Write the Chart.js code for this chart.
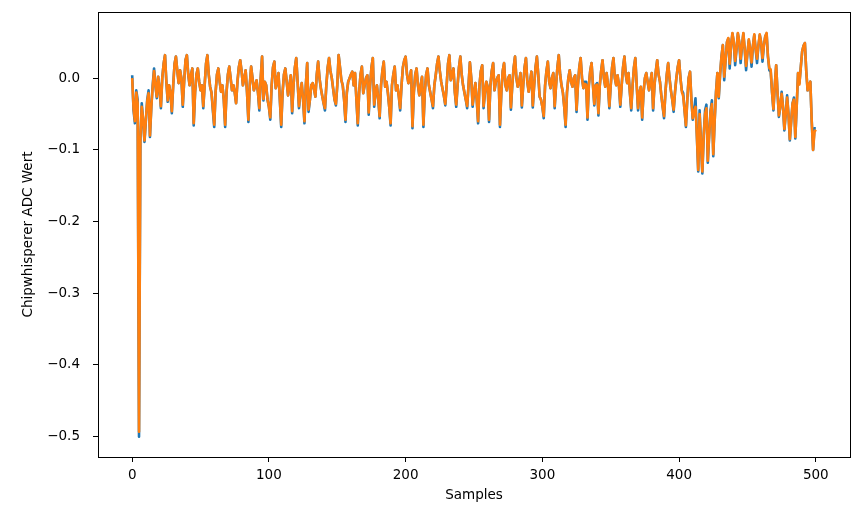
<!DOCTYPE html>
<html>
<head>
<meta charset="utf-8">
<script src="https://cdn.jsdelivr.net/npm/chart.js@4.4.1/dist/chart.umd.min.js"></script>
<style>
  html, body { margin: 0; padding: 0; background: #fff; }
  #wrap { width: 867px; height: 514px; }
</style>
</head>
<body>
<div id="wrap"><canvas id="trace" width="867" height="514"></canvas></div>
<script>
// trace values, one per sample (0..500)
const blueTrace = [
  0.004, -0.045, -0.063, -0.017, -0.03, -0.5, -0.085, -0.035, -0.06, -0.089,
  -0.06, -0.03, -0.017, -0.082, -0.04, -0.01, 0.0135, -0.01, -0.028, 0.002,
  -0.015, -0.042, 0.0, 0.02, 0.032, -0.005, -0.033, -0.01, -0.02, -0.049,
  -0.01, 0.02, 0.030, 0.01, -0.007, 0.011, 0.0, -0.040, -0.005, 0.025,
  0.032, 0.005, -0.01, 0.005, 0.0135, -0.066, -0.02, 0.005, 0.0135, -0.005,
  -0.017, -0.01, -0.042, -0.01, 0.02, 0.032, 0.005, -0.012, -0.02, -0.045,
  -0.068, -0.02, 0.005, 0.0135, -0.005, -0.019, -0.01, -0.03, -0.068, -0.02,
  0.005, 0.016, 0.0, -0.017, -0.01, -0.02, -0.035, -0.005, 0.015, 0.025,
  0.01, -0.01, 0.0, 0.011, -0.02, -0.061, -0.01, 0.016, 0.0, -0.017,
  -0.01, -0.003, -0.02, -0.045, 0.0, 0.030, -0.031, -0.005, -0.01, -0.03,
  -0.04, -0.058, -0.01, 0.015, 0.023, -0.014, -0.005, 0.007, -0.03, -0.068,
  -0.02, 0.005, 0.0135, -0.005, -0.024, -0.01, 0.004, -0.049, -0.01, 0.015,
  0.028, -0.005, -0.042, -0.02, -0.007, -0.03, -0.063, -0.01, 0.021, -0.047,
  -0.03, -0.01, -0.007, -0.015, -0.026, 0.005, 0.023, 0.0, -0.014, -0.025,
  -0.035, -0.045, -0.01, 0.015, 0.028, 0.01, 0.0, -0.015, -0.03, -0.038,
  -0.01, 0.032, 0.015, -0.003, -0.01, -0.03, -0.061, -0.02, -0.005, 0.0,
  0.005, 0.009, -0.01, 0.007, -0.03, -0.066, -0.02, 0.005, 0.016, -0.021,
  -0.01, 0.0, 0.004, -0.051, -0.01, 0.015, 0.028, -0.040, -0.02, -0.01,
  -0.03, -0.056, -0.01, 0.01, 0.023, -0.012, -0.005, -0.02, -0.04, -0.066,
  -0.01, 0.005, 0.016, -0.017, -0.01, -0.025, -0.045, -0.01, 0.015, 0.025,
  0.030, 0.005, -0.007, 0.0, 0.011, -0.070, -0.02, 0.005, 0.0135, -0.01,
  -0.024, -0.01, 0.002, -0.068, -0.02, 0.005, 0.0135, -0.01, -0.02, -0.03,
  -0.042, -0.01, 0.004, 0.02, 0.030, 0.01, -0.005, -0.015, -0.025, -0.038,
  -0.01, 0.02, 0.032, -0.003, 0.005, 0.0135, -0.02, -0.040, -0.01, 0.015,
  0.030, 0.005, -0.010, -0.02, -0.03, -0.042, -0.01, 0.022, 0.0, -0.04,
  -0.02, -0.007, -0.03, -0.063, -0.01, 0.01, 0.018, -0.042, -0.02, -0.005,
  -0.012, -0.061, -0.01, 0.01, 0.021, -0.017, -0.005, 0.0, 0.004, -0.068,
  -0.02, 0.01, 0.021, -0.01, -0.017, 0.0, 0.004, -0.044, -0.01, 0.015,
  0.030, 0.0, -0.012, -0.005, 0.007, -0.041, -0.01, 0.015, 0.028, -0.005,
  -0.019, -0.005, 0.009, -0.041, -0.01, 0.015, 0.030, 0.005, -0.026, -0.03,
  -0.04, -0.056, -0.01, 0.01, 0.023, -0.005, -0.014, 0.0, 0.007, -0.042,
  -0.01, 0.015, 0.032, 0.005, -0.010, -0.02, -0.04, -0.068, -0.02, 0.0,
  0.011, -0.005, -0.012, 0.0, 0.004, -0.047, -0.01, 0.015, 0.028, 0.0,
  -0.014, -0.005, -0.005, -0.058, -0.01, 0.01, 0.021, -0.01, -0.038, -0.01,
  -0.007, -0.052, -0.01, 0.01, 0.025, 0.0, -0.012, 0.007, -0.01, -0.042,
  -0.01, 0.015, 0.028, 0.0, -0.010, 0.004, -0.01, -0.040, -0.01, 0.015,
  0.030, 0.005, -0.007, 0.007, -0.02, -0.045, -0.01, 0.015, 0.028, -0.01,
  -0.045, -0.02, -0.012, -0.058, -0.02, 0.0, 0.007, -0.005, -0.017, -0.005,
  0.007, -0.045, -0.01, 0.01, 0.025, 0.005, -0.005, -0.024, -0.04, -0.056,
  -0.02, 0.005, 0.021, 0.0, -0.017, -0.03, -0.047, -0.02, 0.0, 0.015,
  0.025, 0.0, -0.017, -0.021, -0.045, -0.068, -0.03, 0.0, 0.009, -0.03,
  -0.058, -0.045, -0.028, -0.08, -0.13, -0.045, -0.09, -0.133, -0.08, -0.045,
  -0.037, -0.118, -0.08, -0.045, -0.031, -0.109, -0.06, -0.019, 0.007, -0.028,
  0.005, 0.030, 0.046, -0.003, 0.025, 0.05, 0.055, 0.0135, 0.045, 0.062,
  0.05, 0.018, 0.04, 0.062, 0.05, 0.021, 0.045, 0.062, 0.04, 0.011,
  0.035, 0.053, 0.04, 0.016, 0.045, 0.060, 0.04, 0.021, 0.045, 0.060,
  0.05, 0.023, 0.045, 0.058, 0.062, 0.03, 0.011, 0.009, -0.02, -0.045,
  -0.01, 0.018, -0.02, -0.054, -0.04, -0.019, -0.04, -0.073, -0.05, -0.024,
  -0.05, -0.087, -0.06, -0.035, -0.027, -0.084, -0.04, 0.007, -0.007, 0.015,
  0.037, 0.045, 0.049, 0.01, -0.017, -0.01, -0.005, -0.06, -0.10, -0.07,
  -0.07
];

const orangeTrace = [
  0.0, -0.042, -0.06, -0.02, -0.035, -0.493, -0.082, -0.04, -0.058, -0.087,
  -0.058, -0.032, -0.021, -0.08, -0.04, -0.012, 0.01, -0.01, -0.026, 0.002,
  -0.015, -0.039, 0.0, 0.02, 0.032, -0.005, -0.031, -0.01, -0.02, -0.046,
  -0.01, 0.02, 0.030, 0.01, -0.007, 0.011, 0.0, -0.037, -0.005, 0.025,
  0.032, 0.005, -0.01, 0.005, 0.0135, -0.063, -0.02, 0.005, 0.0135, -0.005,
  -0.017, -0.01, -0.039, -0.01, 0.02, 0.032, 0.005, -0.012, -0.02, -0.042,
  -0.065, -0.02, 0.005, 0.0135, -0.005, -0.019, -0.01, -0.03, -0.065, -0.02,
  0.005, 0.016, 0.0, -0.017, -0.01, -0.02, -0.035, -0.005, 0.015, 0.025,
  0.01, -0.01, 0.0, 0.011, -0.02, -0.058, -0.01, 0.016, 0.0, -0.017,
  -0.01, -0.003, -0.02, -0.042, 0.0, 0.030, -0.029, -0.005, -0.01, -0.03,
  -0.04, -0.055, -0.01, 0.015, 0.023, -0.014, -0.005, 0.007, -0.03, -0.065,
  -0.02, 0.005, 0.0135, -0.005, -0.024, -0.01, 0.004, -0.046, -0.01, 0.015,
  0.028, -0.005, -0.039, -0.02, -0.007, -0.03, -0.06, -0.01, 0.021, -0.044,
  -0.03, -0.01, -0.007, -0.015, -0.026, 0.005, 0.023, 0.0, -0.014, -0.025,
  -0.035, -0.042, -0.01, 0.015, 0.028, 0.01, 0.0, -0.015, -0.03, -0.036,
  -0.01, 0.032, 0.015, -0.003, -0.01, -0.03, -0.058, -0.02, -0.005, 0.0,
  0.005, 0.009, -0.01, 0.007, -0.03, -0.063, -0.02, 0.005, 0.016, -0.021,
  -0.01, 0.0, 0.004, -0.048, -0.01, 0.015, 0.028, -0.037, -0.02, -0.01,
  -0.03, -0.053, -0.01, 0.01, 0.023, -0.012, -0.005, -0.02, -0.04, -0.063,
  -0.01, 0.005, 0.016, -0.017, -0.01, -0.025, -0.042, -0.01, 0.015, 0.025,
  0.030, 0.005, -0.007, 0.0, 0.011, -0.067, -0.02, 0.005, 0.0135, -0.01,
  -0.024, -0.01, 0.002, -0.065, -0.02, 0.005, 0.0135, -0.01, -0.02, -0.03,
  -0.039, -0.01, 0.004, 0.02, 0.030, 0.01, -0.005, -0.015, -0.025, -0.036,
  -0.01, 0.02, 0.032, -0.003, 0.005, 0.0135, -0.02, -0.037, -0.01, 0.015,
  0.030, 0.005, -0.010, -0.02, -0.03, -0.039, -0.01, 0.022, 0.0, -0.037,
  -0.02, -0.007, -0.03, -0.06, -0.01, 0.01, 0.018, -0.039, -0.02, -0.005,
  -0.012, -0.058, -0.01, 0.01, 0.021, -0.017, -0.005, 0.0, 0.004, -0.065,
  -0.02, 0.01, 0.021, -0.01, -0.017, 0.0, 0.004, -0.041, -0.01, 0.015,
  0.030, 0.0, -0.012, -0.005, 0.007, -0.038, -0.01, 0.015, 0.028, -0.005,
  -0.019, -0.005, 0.009, -0.038, -0.01, 0.015, 0.030, 0.005, -0.026, -0.03,
  -0.04, -0.053, -0.01, 0.01, 0.023, -0.005, -0.014, 0.0, 0.007, -0.039,
  -0.01, 0.015, 0.032, 0.005, -0.010, -0.02, -0.04, -0.065, -0.02, 0.0,
  0.011, -0.005, -0.012, 0.0, 0.004, -0.044, -0.01, 0.015, 0.028, 0.0,
  -0.014, -0.008, -0.009, -0.055, -0.01, 0.01, 0.021, -0.01, -0.036, -0.01,
  -0.009, -0.049, -0.01, 0.01, 0.025, 0.0, -0.012, 0.007, -0.01, -0.039,
  -0.01, 0.015, 0.028, 0.0, -0.010, 0.004, -0.01, -0.037, -0.01, 0.015,
  0.030, 0.005, -0.007, 0.007, -0.02, -0.042, -0.01, 0.015, 0.028, -0.01,
  -0.042, -0.02, -0.012, -0.055, -0.02, 0.0, 0.007, -0.005, -0.017, -0.005,
  0.007, -0.042, -0.01, 0.01, 0.025, 0.005, -0.005, -0.024, -0.04, -0.053,
  -0.02, 0.005, 0.021, 0.0, -0.017, -0.03, -0.044, -0.02, 0.0, 0.015,
  0.025, 0.0, -0.019, -0.025, -0.045, -0.066, -0.03, 0.0, 0.009, -0.03,
  -0.056, -0.048, -0.04, -0.08, -0.128, -0.05, -0.09, -0.13, -0.08, -0.05,
  -0.042, -0.115, -0.08, -0.048, -0.036, -0.106, -0.06, -0.021, 0.007, -0.026,
  0.006, 0.030, 0.046, 0.002, 0.025, 0.05, 0.056, 0.02, 0.045, 0.063,
  0.05, 0.024, 0.04, 0.063, 0.05, 0.027, 0.045, 0.063, 0.04, 0.017,
  0.035, 0.054, 0.04, 0.022, 0.045, 0.061, 0.04, 0.027, 0.045, 0.061,
  0.05, 0.028, 0.045, 0.058, 0.063, 0.03, 0.014, 0.012, -0.02, -0.043,
  -0.01, 0.018, -0.02, -0.052, -0.04, -0.022, -0.04, -0.071, -0.05, -0.027,
  -0.05, -0.085, -0.06, -0.035, -0.03, -0.082, -0.04, 0.007, -0.009, 0.015,
  0.037, 0.045, 0.049, 0.01, -0.017, -0.01, -0.005, -0.06, -0.10, -0.075,
  -0.072
];

const xTicks = [0, 100, 200, 300, 400, 500];
const yTicks = [-0.5, -0.4, -0.3, -0.2, -0.1, 0.0];

const toPoints = (arr) => arr.map((v, i) => ({ x: i, y: v }));

function fmtY(v) {
  const s = Math.abs(v).toFixed(1);
  return v < -1e-9 ? "\u2212" + s : s;
}

// black box around the plot area, like the matplotlib axes frame
const frame = {
  id: "frame",
  afterDraw(chart) {
    const { ctx, chartArea: a } = chart;
    ctx.save();
    ctx.strokeStyle = "#000";
    ctx.lineWidth = 1;
    ctx.strokeRect(a.left + 0.5, a.top + 0.5, a.right - a.left, a.bottom - a.top);
    ctx.restore();
  },
};

const font = { family: "'DejaVu Sans', sans-serif", size: 13.5 };

new Chart(document.getElementById("trace").getContext("2d"), {
  type: "line",
  data: {
    datasets: [
      {
        data: toPoints(blueTrace),
        borderColor: "#1f77b4",
        borderWidth: 2.6,
        pointRadius: 0,
        tension: 0,
        borderJoinStyle: "round",
        order: 1,
      },
      {
        data: toPoints(orangeTrace),
        borderColor: "#ff7f0e",
        borderWidth: 2.6,
        pointRadius: 0,
        tension: 0,
        borderJoinStyle: "round",
        order: 0,
      },
    ],
  },
  options: {
    responsive: false,
    devicePixelRatio: 1,
    animation: false,
    layout: { padding: { top: 12, right: 17, left: 0, bottom: 0 } },
    plugins: { legend: { display: false }, tooltip: { enabled: false } },
    scales: {
      x: {
        type: "linear",
        min: -25,
        max: 525,
        afterBuildTicks: (s) => { s.ticks = xTicks.map((v) => ({ value: v })); },
        afterFit: (s) => { s.height = 57; s.paddingLeft = 0; s.paddingRight = 0; },
        ticks: { color: "#000", font, padding: 5, maxRotation: 0, callback: (v) => String(v) },
        grid: { drawOnChartArea: false, drawTicks: true, tickLength: 5, color: "#000" },
        border: { display: false },
        title: { display: true, text: "Samples", color: "#000", font, padding: { top: 0, bottom: 10 } },
      },
      y: {
        type: "linear",
        min: -0.5283,
        max: 0.0922,
        afterBuildTicks: (s) => { s.ticks = yTicks.map((v) => ({ value: v })); },
        afterFit: (s) => { s.width = 98; s.paddingTop = 0; s.paddingBottom = 0; },
        ticks: { color: "#000", font, padding: 13, callback: (v) => fmtY(v) },
        grid: { drawOnChartArea: false, drawTicks: true, tickLength: 5, color: "#000" },
        border: { display: false },
        title: { display: true, text: "Chipwhisperer ADC Wert", color: "#000", font, padding: { top: 20, bottom: 0 } },
      },
    },
  },
  plugins: [frame],
});
</script>
</body>
</html>
